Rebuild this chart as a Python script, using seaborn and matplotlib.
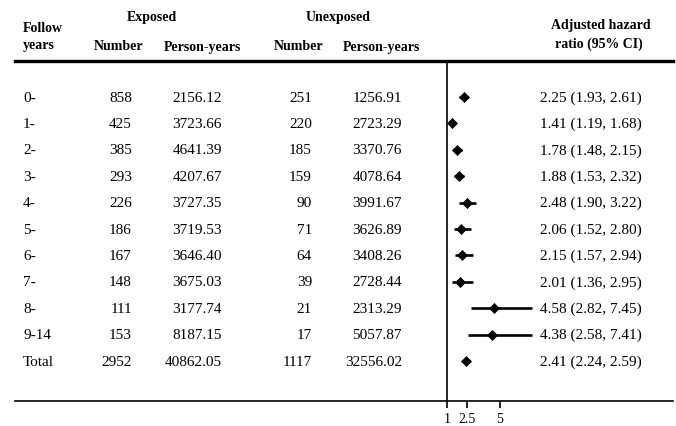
import matplotlib
matplotlib.use("Agg")
import matplotlib.pyplot as plt
import matplotlib.transforms as mtransforms
import pandas as pd
import seaborn as sns

# table values
years = ["0-", "1-", "2-", "3-", "4-", "5-", "6-", "7-", "8-", "9-14", "Total"]
exp_n = [858, 425, 385, 293, 226, 186, 167, 148, 111, 153, 2952]
exp_py = [2156.12, 3723.66, 4641.39, 4207.67, 3727.35, 3719.53, 3646.40,
          3675.03, 3177.74, 8187.15, 40862.05]
unexp_n = [251, 220, 185, 159, 90, 71, 64, 39, 21, 17, 1117]
unexp_py = [1256.91, 2723.29, 3370.76, 4078.64, 3991.67, 3626.89, 3408.26,
            2728.44, 2313.29, 5057.87, 32556.02]
hr = [2.25, 1.41, 1.78, 1.88, 2.48, 2.06, 2.15, 2.01, 4.58, 4.38, 2.41]
hr_lo = [1.93, 1.19, 1.48, 1.53, 1.90, 1.52, 1.57, 1.36, 2.82, 2.58, 2.24]
hr_hi = [2.61, 1.68, 2.15, 2.32, 3.22, 2.80, 2.94, 2.95, 7.45, 7.41, 2.59]
xticks = [1, 2.5, 5]

df = pd.DataFrame({"years": years, "hr": hr, "lo": hr_lo, "hi": hr_hi})
df["row"] = range(len(df))

sns.set_theme(style="white")
plt.rcParams["font.family"] = ["Liberation Serif", "DejaVu Serif"]
plt.rcParams["text.color"] = "black"
plt.rcParams["xtick.color"] = "black"
plt.rcParams["xtick.labelcolor"] = "black"

W, H = 676, 427
fig = plt.figure(figsize=(W / 100, H / 100), dpi=100)
# axes spans the two horizontal rules
ax = fig.add_axes([15 / W, (H - 402) / H, 658 / W, 340 / H])

px_per_unit = 13.25
ax.set_xlim(1 - 432 / px_per_unit, 1 + 226 / px_per_unit)
row0, row_step = 98, 26.4
ax.set_ylim((402 - row0) / row_step, (62 - row0) / row_step)

ax.hlines(df["row"], df["lo"], df["hi"], color="black", lw=1.9, zorder=2)
sns.scatterplot(data=df, x="hr", y="row", marker="D", s=26, color="black",
                edgecolor="black", linewidth=0.5, ax=ax, zorder=3, legend=False)
ax.axvline(1, color="black", lw=1.2)

for side in ["left", "right"]:
    ax.spines[side].set_visible(False)
ax.spines["top"].set_linewidth(2.4)
ax.spines["bottom"].set_linewidth(1.2)
ax.spines["top"].set_color("black")
ax.spines["bottom"].set_color("black")
ax.set_xticks(xticks)
ax.set_xticklabels(["1", "2.5", "5"])
ax.set_yticks([])
ax.set_xlabel("")
ax.set_ylabel("")
ax.tick_params(axis="x", bottom=True, direction="out", length=5, width=1.2,
               color="black", labelcolor="black", labelsize=10, pad=3)

# table text
trans = mtransforms.blended_transform_factory(fig.transFigure, ax.transData)
fs = 11
for i in range(len(df)):
    ax.text(23 / W, i, years[i], transform=trans, ha="left", va="center", fontsize=fs)
    ax.text(132 / W, i, f"{exp_n[i]}", transform=trans, ha="right", va="center", fontsize=fs)
    ax.text(222 / W, i, f"{exp_py[i]:.2f}", transform=trans, ha="right", va="center", fontsize=fs)
    ax.text(312 / W, i, f"{unexp_n[i]}", transform=trans, ha="right", va="center", fontsize=fs)
    ax.text(402 / W, i, f"{unexp_py[i]:.2f}", transform=trans, ha="right", va="center", fontsize=fs)
    ax.text(540 / W, i, f"{hr[i]:.2f} ({hr_lo[i]:.2f}, {hr_hi[i]:.2f})",
            transform=trans, ha="left", va="center", fontsize=fs)

# header
hfs = 10
def head(x, y, s, ha="center"):
    fig.text(x / W, 1 - y / H, s, ha=ha, va="center", fontsize=hfs, fontweight="bold")

head(23, 28, "Follow", ha="left")
head(23, 46, "years", ha="left")
head(152, 18, "Exposed")
head(338, 18, "Unexposed")
head(119, 47, "Number")
head(202, 47, "Person-years")
head(299, 47, "Number")
head(381, 47, "Person-years")
head(601, 25, "Adjusted hazard")
head(599, 44, "ratio (95% CI)")

fig.savefig("out.png", dpi=100)
